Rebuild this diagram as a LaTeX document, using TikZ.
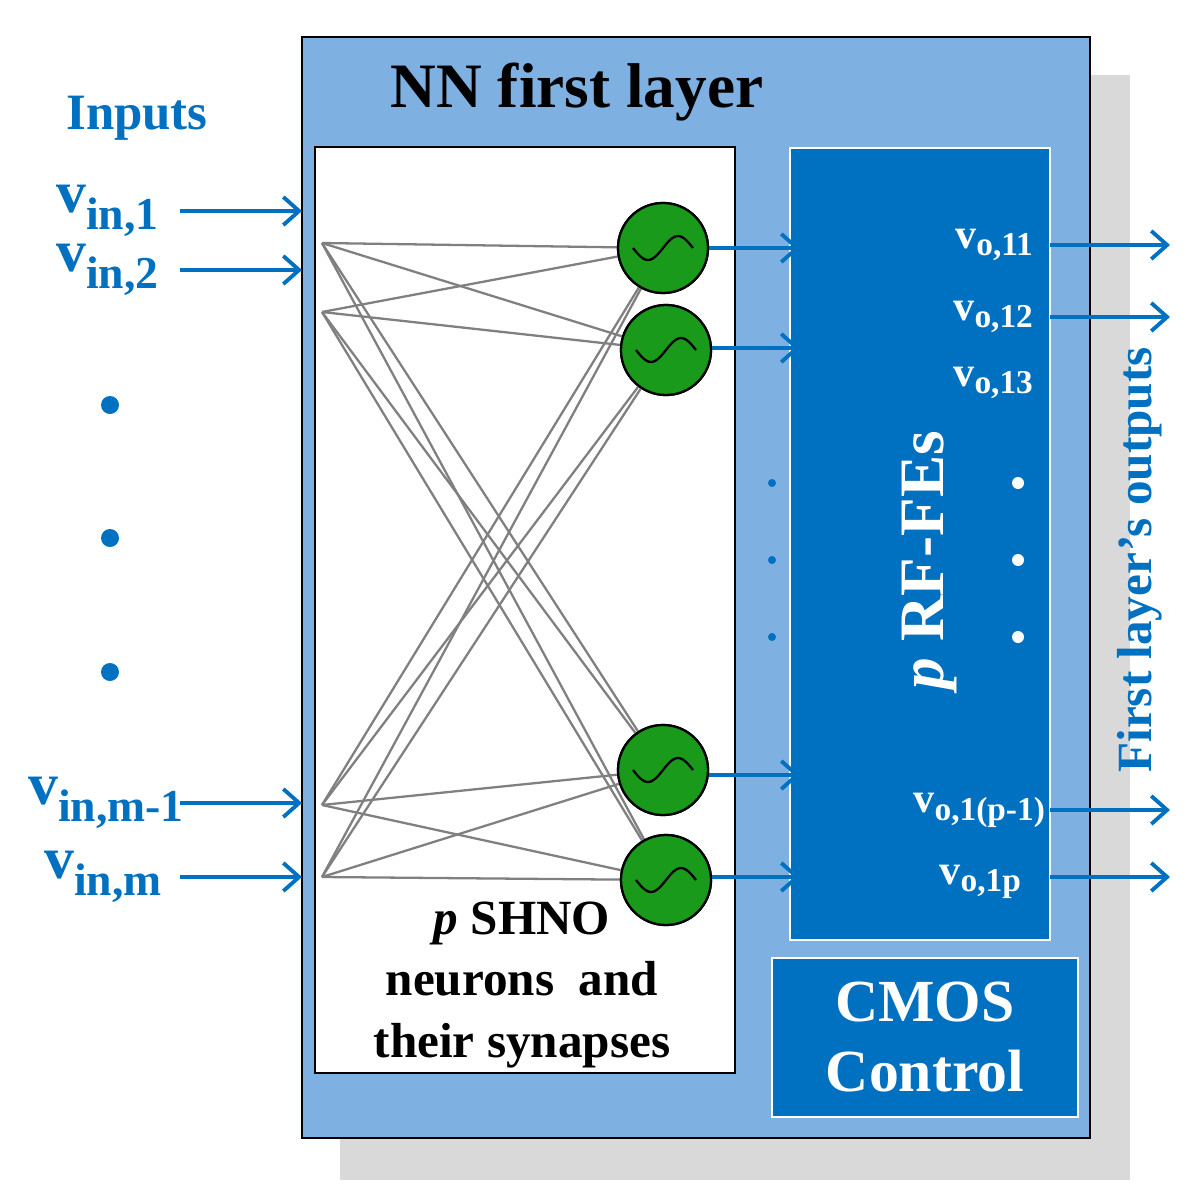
\documentclass[tikz,border=0pt]{standalone}
\usepackage{fontspec}
\setmainfont{Liberation Serif}
\usetikzlibrary{arrows.meta}
\definecolor{lightblue}{HTML}{7EB1E2}
\definecolor{darkblue}{HTML}{0070C0}
\definecolor{shnogreen}{HTML}{1A9A1A}
\begin{document}
\begin{tikzpicture}[x=0.02cm,y=-0.02cm,
    arr/.style={darkblue,line width=2.2pt,-{Straight Barb[length=9pt,width=16pt,line width=2.2pt]}},
    neuron/.style={circle,draw,line width=1.3pt,fill=shnogreen,minimum size=1.8cm,inner sep=0pt},
    syn/.style={gray,line width=1.3pt},
    inlab/.style={darkblue,font=\fontsize{34}{34}\bfseries\selectfont,anchor=west},
    outlab/.style={white,font=\fontsize{24}{24}\bfseries\selectfont,anchor=east}]
    \useasboundingbox (0,0) rectangle (1197,1200);
    % boxes
    \fill[black!15] (340,75) rectangle (1130,1180);
    \draw[line width=1.3pt,fill=lightblue] (302,37) rectangle (1090,1138);
    \draw[line width=1.3pt,fill=white] (315,147) rectangle (735,1073);
    \draw[white,line width=1.3pt,fill=darkblue] (790,148) rectangle (1050,940);
    \draw[white,line width=1.3pt,fill=darkblue] (772,958) rectangle (1078,1117);
    % titles
    \node[font=\fontsize{36}{36}\bfseries\selectfont] (title) at (577,92) {NN first layer};
    \node[darkblue,font=\fontsize{29}{29}\bfseries\selectfont] (inputs) at (137,118) {Inputs};
    \node[align=center,font=\fontsize{28}{35}\bfseries\selectfont] (shno) at (522,985) {\textit{p} SHNO\\neurons\ \ and\\their synapses};
    \node[white,align=center,font=\fontsize{34}{40}\bfseries\selectfont] (cmos) at (925,1037) {CMOS\\Control};
    \node[white,rotate=90,font=\fontsize{36}{36}\bfseries\selectfont] (rffe) at (930,560) {\textit{p} RF-FEs};
    \node[darkblue,rotate=90,font=\fontsize{28}{28}\bfseries\selectfont] (outs) at (1140,560) {First layer’s outputs};
    % inputs
    \coordinate (s1) at (322,243);
    \coordinate (s2) at (322,312);
    \coordinate (s3) at (322,805);
    \coordinate (s4) at (322,877);
    \foreach \n/\y/\x/\t in {i1/211/50/{in,1},i2/270/50/{in,2},i3/803/22/{in,m-1},i4/877/38/{in,m}} {
        \coordinate (\n a) at (180,\y);
        \coordinate (\n b) at (302,\y);
        \draw[arr] (\n a) -- (\n b);
        \node[inlab] (\n l) at (\x,\y) {v\textsubscript{\fontsize{26}{26}\selectfont\t}};
    }
    \foreach \y in {405,538,672} \fill[darkblue] (110,\y) circle (9);
    % neurons
    \node[neuron] (n1) at (663,248) {};
    \node[neuron] (n2) at (666,350) {};
    \node[neuron] (n3) at (663,770) {};
    \node[neuron] (n4) at (666,880) {};
    \foreach \s in {s1,s2,s3,s4}
        \foreach \n in {n1,n2,n3,n4}
            \draw[syn] (\s) -- (\n);
    \foreach \n in {n1,n2,n3,n4} {
        \draw[neuron] (\n) circle (45);
        \draw[line width=1.3pt,shift={(\n)}] plot[domain=-1:1,samples=25,smooth] (\x*30,{-12*sin(\x*180)});
    }
    \foreach \n/\y in {n1/248,n2/348,n3/775,n4/877} {
        \coordinate (\n o) at (800,\y);
        \draw[arr] (\n.east |- \n o) -- (\n o);
    }
    % outputs
    \foreach \o/\y in {o1/245,o2/317,o3/810,o4/877} {
        \coordinate (\o a) at (1050,\y);
        \coordinate (\o b) at (1170,\y);
        \draw[arr] (\o a) -- (\o b);
    }
    \node[outlab] (l1) at (1040,245) {v\textsubscript{\fontsize{19}{19}\selectfont o,11}};
    \node[outlab] (l2) at (1040,317) {v\textsubscript{\fontsize{19}{19}\selectfont o,12}};
    \node[outlab] (l3) at (1040,383) {v\textsubscript{\fontsize{19}{19}\selectfont o,13}};
    \node[outlab] (l4) at (1052,810) {v\textsubscript{\fontsize{19}{19}\selectfont o,1(p-1)}};
    \node[outlab] (l5) at (1028,882) {v\textsubscript{\fontsize{19}{19}\selectfont o,1p}};
    \foreach \y in {483,560,637} {
        \fill[darkblue] (772,\y) circle (4);
        \fill[white] (1018,\y) circle (6);
    }
\end{tikzpicture}
\end{document}
